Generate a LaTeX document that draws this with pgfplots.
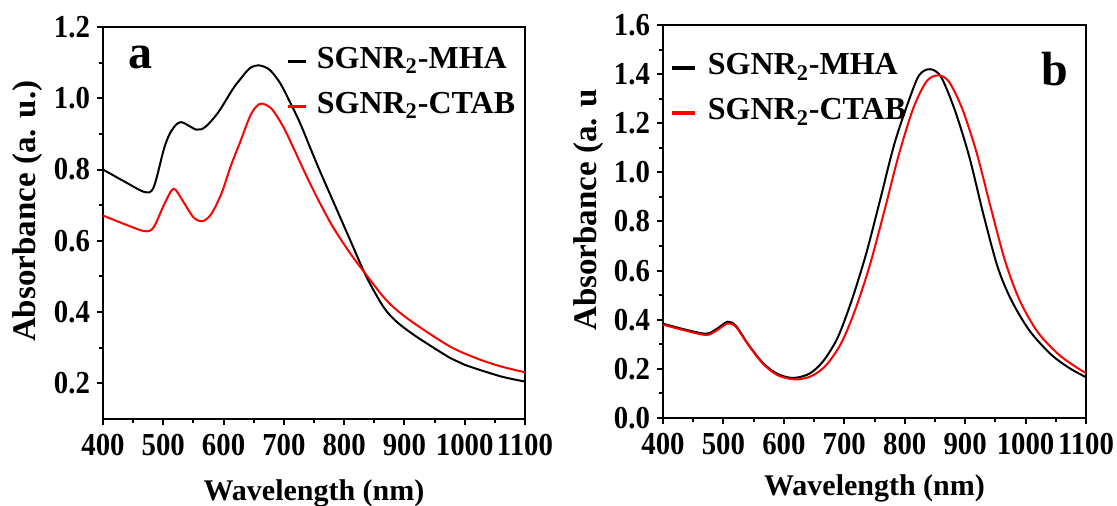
\documentclass[border=0pt]{standalone}
\usepackage{pgfplots}
\pgfplotsset{compat=1.18}
\usepackage{fontspec}
\setmainfont{Liberation Serif}
\newfontfamily\tickfont{Liberation Serif}[FakeStretch=0.9]
\pgfplotsset{
 myax/.style={
  scale only axis, width=211pt, height=196pt,
  xmin=400, xmax=1100, xtick={400,500,...,1100}, minor x tick num=1,
  minor y tick num=1,
  tick pos=left, tick align=outside,
  major tick length=3pt, minor tick length=2pt,
  axis line style={line width=1.2pt},
  every tick/.append style={line width=1pt, black},
  /pgf/number format/assume math mode=true,
  every tick label/.append style={font=\fontsize{16}{16}\selectfont\tickfont\bfseries},
  xticklabel style={/pgf/number format/1000 sep={}, yshift=-1pt},
  yticklabel style={/pgf/number format/.cd, fixed, fixed zerofill, precision=1},
  xlabel={\textbf{Wavelength (nm)}},
  xlabel style={font=\fontsize{15}{15}\selectfont\bfseries, anchor=center},
  ylabel style={font=\fontsize{16.5}{16.5}\selectfont\bfseries, anchor=center},
  legend style={draw=none, fill=none, font=\fontsize{16}{16}\selectfont\bfseries,
    anchor=north west, nodes={inner sep=0pt, text height=11pt, text depth=4pt}},
  legend cell align=left,
  every axis plot/.append style={line width=1pt, smooth},
 }}
\begin{document}
\begin{tikzpicture}[x=1pt,y=1pt]
\useasboundingbox (0,0) rectangle (558.5,253);
\begin{axis}[myax, at={(51.5pt,43.5pt)}, anchor=south west,
  ymin=0.1, ymax=1.2, ytick={0.2,0.4,...,1.21},
  ylabel={\textbf{Absorbance (a. u.)}},
  ylabel style={at={(axis description cs:-0.178,0.53)}},
  xlabel style={at={(axis description cs:0.5,-0.19)}},
  legend style={at={(rel axis cs:0.419,0.962)}, row sep=7.5pt},
  legend image code/.code={\draw[#1,line width=1.6pt] (0pt,0pt) -- (9pt,0pt); \path (14pt,0pt);},
  clip=false]
\addplot[black] coordinates {
(400,0.800)(437,0.765)(469,0.737)(484,0.750)(502,0.863)(514,0.910)(529,0.933)
(555,0.912)(570,0.920)(591,0.960)(615,1.025)(627,1.052)(644,1.085)(660,1.092)(677,1.079)
(694,1.042)(710,0.990)(727,0.930)(743,0.864)(760,0.795)(781,0.714)(810,0.602)(837,0.499)(865,0.415)
(887,0.373)(920,0.331)(976,0.271)(1000,0.252)(1059,0.220)(1100,0.205)};
\addlegendentry{SGNR\textsubscript{2}-MHA}
\addplot[red] coordinates {
(400,0.671)(437,0.646)(469,0.627)(484,0.638)(502,0.704)(517,0.746)(532,0.713)
(550,0.666)(565,0.655)(580,0.676)(597,0.735)(612,0.810)(627,0.875)(644,0.950)(655,0.978)(664,0.985)
(680,0.970)(699,0.920)(715,0.864)(738,0.780)(757,0.715)(781,0.640)(810,0.565)(837,0.504)
(865,0.443)(887,0.406)(920,0.364)(976,0.303)(1020,0.270)(1059,0.248)(1100,0.231)};
\addlegendentry{SGNR\textsubscript{2}-CTAB}
\node[font=\fontsize{24}{24}\selectfont\bfseries] at (rel axis cs:0.09,0.921) {a};
\end{axis}
\begin{axis}[myax, at={(331.5pt,44pt)}, anchor=south west, width=211.5pt, height=196.5pt,
  ymin=0, ymax=1.6, ytick={0,0.2,...,1.61},
  ylabel={\textbf{Absorbance (a. u}},
  ylabel style={at={(axis description cs:-0.177,0.53)}},
  xlabel style={at={(axis description cs:0.5,-0.178)}},
  legend style={at={(rel axis cs:0.002,0.94)}, row sep=7.5pt},
  legend image code/.code={\draw[#1,line width=1.6pt] (0pt,0pt) -- (11.5pt,0pt); \path (17.5pt,0pt);},
  clip=false]
\addplot[black] coordinates {
(400,0.384)(435,0.361)(471,0.343)(488,0.361)(507,0.392)(521,0.374)(541,0.300)
(565,0.225)(589,0.180)(615,0.163)(642,0.180)(665,0.231)(689,0.327)(712,0.477)
(736,0.667)(759,0.885)(783,1.117)(807,1.294)(824,1.396)(842,1.420)(860,1.389)
(883,1.253)(907,1.062)(930,0.831)(954,0.613)(977,0.477)(1007,0.354)(1042,0.259)
(1072,0.204)(1100,0.166)};
\addlegendentry{SGNR\textsubscript{2}-MHA}
\addplot[red] coordinates {
(400,0.380)(435,0.357)(471,0.338)(488,0.355)(507,0.385)(521,0.370)(541,0.298)
(565,0.222)(589,0.175)(618,0.157)(645,0.170)(670,0.215)(695,0.305)(718,0.440)
(742,0.620)(766,0.840)(790,1.070)(814,1.260)(836,1.370)(855,1.395)(873,1.370)
(895,1.260)(919,1.080)(942,0.860)(966,0.640)(990,0.480)(1020,0.350)(1055,0.258)
(1085,0.205)(1100,0.183)};
\addlegendentry{SGNR\textsubscript{2}-CTAB}
\node[font=\fontsize{24}{24}\selectfont\bfseries] at (rel axis cs:0.927,0.888) {b};
\end{axis}
\end{tikzpicture}
\end{document}
